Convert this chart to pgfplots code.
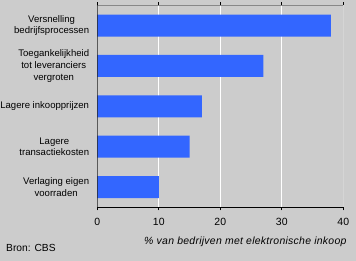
\documentclass[border=0pt]{standalone}
\usepackage{pgfplots}
\pgfplotsset{compat=1.18}
\usepackage{fontspec}
\setmainfont{Liberation Sans}
\definecolor{bg}{HTML}{CCCCCC}
\definecolor{barblue}{HTML}{3366FF}
\definecolor{framegray}{HTML}{888888}
\begin{document}
\begin{tikzpicture}
\fill[bg] (-97.3bp,-53.7bp) rectangle (258.7bp,207.3bp);
\path[use as bounding box] (-97.3bp,-53.7bp) rectangle (258.7bp,207.3bp);
\begin{axis}[
  at={(0,0)}, anchor=south west,
  width=246bp, height=202bp, scale only axis,
  xmin=0, xmax=40, ymin=-0.5, ymax=4.5, y dir=reverse,
  xtick={0,10,20,30,40}, ytick={0,1,2,3,4},
  yticklabels={{Versnelling\\bedrijfsprocessen},{Toegankelijkheid\\tot leveranciers\\vergroten},{Lagere inkoopprijzen},{Lagere\\transactiekosten},{Verlaging eigen\\voorraden}},
  yticklabel style={align=center, font=\fontsize{9.6}{11.7}\selectfont, inner sep=0pt, xshift=-5bp},
  xticklabel style={font=\fontsize{10.5}{12}\selectfont, inner sep=0pt, anchor=north, yshift=-8bp},
  /pgf/number format/assume math mode=true,
  ytick style={draw=none},
  xtick style={black, line width=1bp},
  tick align=outside, major tick length=3bp,
  axis line style={draw=none},
  xmajorgrids, grid style={white, line width=1bp},
  xbar, bar shift=0pt, bar width=22bp,
]
\addplot[fill=barblue, draw=none] coordinates {(38,0) (27,1) (17,2) (15,3) (10,4)};
\draw[framegray, line width=1bp] (axis description cs:0,1) -- (axis description cs:1,1) -- (axis description cs:1,0);
\draw[black, line width=1bp] (axis description cs:0,1) -- (axis description cs:0,0) -- (axis description cs:1,0);
\end{axis}
\node[anchor=base east, inner sep=0pt, font=\fontsize{10.5}{12}\selectfont\itshape\addfontfeatures{LetterSpace=2.6}] at (249.4bp,-36.7bp) {\% van bedrijven met elektronische inkoop};
\node[anchor=base west, inner sep=0pt, font=\fontsize{10.3}{12}\selectfont] at (-91.3bp,-43.7bp) {Bron: CBS};
\end{tikzpicture}
\end{document}
